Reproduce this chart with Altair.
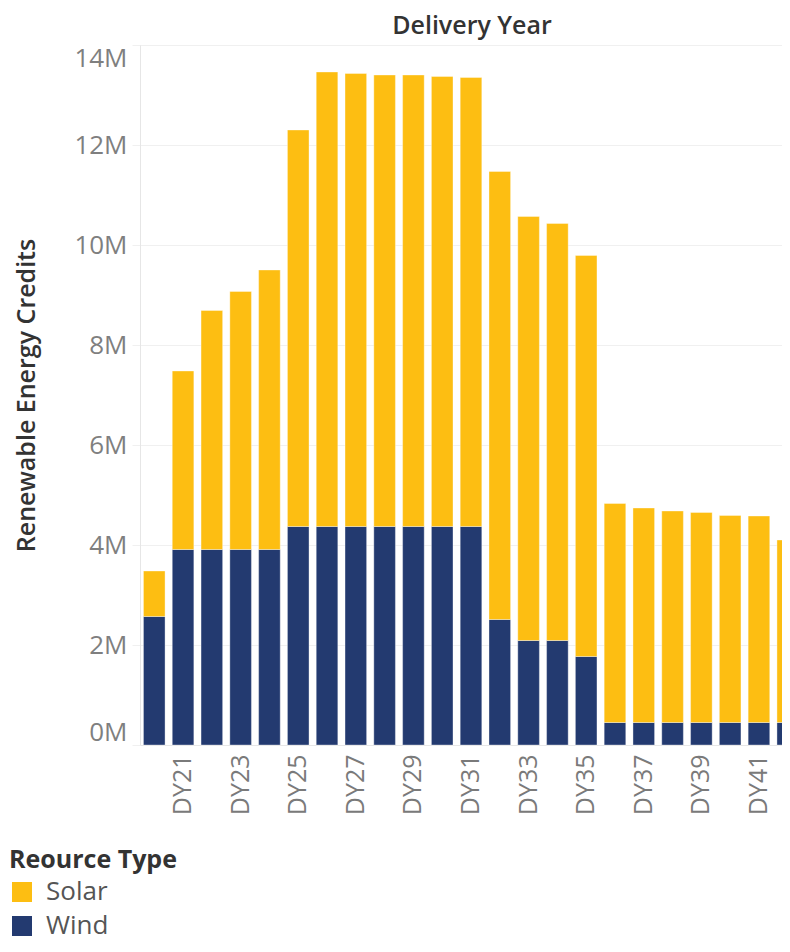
import altair as alt
import pandas as pd

years = ["DY20", "DY21", "DY22", "DY23", "DY24", "DY25", "DY26", "DY27", "DY28", "DY29",
         "DY30", "DY31", "DY32", "DY33", "DY34", "DY35", "DY36", "DY37", "DY38", "DY39",
         "DY40", "DY41", "DY42"]
wind = [2.57, 3.91, 3.91, 3.91, 3.91, 4.37, 4.37, 4.37, 4.37, 4.37, 4.37, 4.37,
        2.51, 2.09, 2.09, 1.77, 0.45, 0.45, 0.45, 0.45, 0.45, 0.45, 0.45]
total = [3.48, 7.48, 8.69, 9.07, 9.50, 12.30, 13.46, 13.43, 13.40, 13.40, 13.37, 13.35,
         11.47, 10.57, 10.43, 9.79, 4.83, 4.74, 4.68, 4.65, 4.59, 4.58, 4.10]
shown_labels = ["DY21", "DY23", "DY25", "DY27", "DY29", "DY31", "DY33", "DY35", "DY37", "DY39", "DY41"]
y_ticks = [0, 2e6, 4e6, 6e6, 8e6, 10e6, 12e6, 14e6]
types = ["Solar", "Wind"]
colors = ["#FDBE12", "#233A70"]

rows = []
for y, w, t in zip(years, wind, total):
    rows.append({"year": y, "type": "Wind", "value": w * 1e6, "ord": 0})
    rows.append({"year": y, "type": "Solar", "value": (t - w) * 1e6, "ord": 1})
df = pd.DataFrame(rows)

font = "Open Sans"

chart = alt.Chart(df).mark_bar(stroke="white", strokeWidth=0.6, strokeOpacity=0.6).encode(
    x=alt.X("year:N", sort=years, title=None,
            scale=alt.Scale(paddingInner=0.25, paddingOuter=0.12, range=[0, 662]),
            axis=alt.Axis(values=shown_labels, labelAngle=-90, labelFontSize=25,
                          labelColor="#7a7a7a", labelFont=font, labelPadding=9,
                          ticks=False, domainColor="#e6e6e6", labelBaseline="middle")),
    y=alt.Y("value:Q", stack="zero", title="Renewable Energy Credits",
            scale=alt.Scale(domain=[0, 14000000], nice=False),
            axis=alt.Axis(values=y_ticks,
                          labelExpr="format(datum.value/1000000, 'd') + 'M'",
                          labelFontSize=26, labelColor="#7f7f7f", labelFont=font,
                          labelFlush=True, ticks=True, tickSize=8, tickColor="#f0f0f0",
                          labelPadding=5,
                          domainColor="#e6e6e6", gridColor="#f0f0f0",
                          titleFontSize=25, titleFont=font, titleFontWeight=600,
                          titleColor="#333333", titlePadding=34)),
    color=alt.Color("type:N", title="Reource Type",
                    scale=alt.Scale(domain=types, range=colors),
                    legend=alt.Legend(orient="none", legendX=-131, legendY=803,
                                      titleFontSize=25, titleFont=font, titleFontWeight=700,
                                      titleColor="#333333", labelFontSize=26, labelFont=font,
                                      labelColor="#555555", symbolType="square",
                                      symbolSize=400, symbolStrokeWidth=0,
                                      rowPadding=8, titlePadding=6, labelOffset=11)),
    order=alt.Order("ord:Q"),
).properties(
    width=642, height=700,
    autosize=alt.AutoSizeParams(type="none"),
    padding={"left": 132, "top": 37, "right": 0, "bottom": 199},
    title=alt.TitleParams("Delivery Year", fontSize=25, font=font, fontWeight=600,
                          color="#333333", anchor="middle", offset=6, dx=11),
).configure_view(stroke=None).configure(background="white")

chart.save("out.html", embed_options={"renderer": "svg", "actions": False})
